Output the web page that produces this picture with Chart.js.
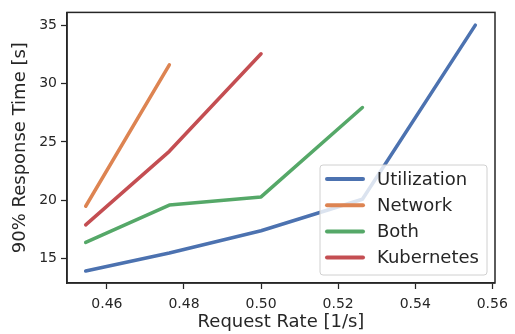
<!DOCTYPE html>
<html>
<head>
<meta charset="utf-8">
<script src="https://cdn.jsdelivr.net/npm/chart.js@4"></script>
<style>
  html, body { margin: 0; padding: 0; background: #fff; }
  #wrap { width: 515px; height: 334px; }
</style>
</head>
<body>
<div id="wrap"><canvas id="chart"></canvas></div>
<script>
const seriesNames = ['Utilization', 'Network', 'Both', 'Kubernetes'];
const seriesColors = ['#4c72b0', '#dd8452', '#55a868', '#c44e52'];

const utilRate = [0.4545, 0.4762, 0.5, 0.5263, 0.5556];
const utilTime = [13.95, 15.5, 17.4, 20.1, 35.0];
const netRate = [0.4545, 0.4762];
const netTime = [19.5, 31.6];
const bothRate = [0.4545, 0.4762, 0.5, 0.5263];
const bothTime = [16.4, 19.6, 20.3, 27.95];
const kubeRate = [0.4545, 0.4762, 0.5];
const kubeTime = [17.9, 24.2, 32.55];

const xTicks = [0.46, 0.48, 0.50, 0.52, 0.54, 0.56];
const yTicks = [15, 20, 25, 30, 35];

const rates = [utilRate, netRate, bothRate, kubeRate];
const times = [utilTime, netTime, bothTime, kubeTime];

const ink = '#262626';
const font = 'DejaVu Sans';

const plotBox = {
    id: 'plotBox',
    afterDatasetsDraw(chart) {
        const { ctx, chartArea } = chart;
        ctx.save();
        ctx.strokeStyle = ink;
        ctx.lineWidth = 1.5;
        ctx.strokeRect(chartArea.left, chartArea.top,
            chartArea.right - chartArea.left, chartArea.bottom - chartArea.top);
        ctx.restore();
    }
};

const insideLegend = {
    id: 'insideLegend',
    afterDraw(chart) {
        const { ctx } = chart;
        const x = 320, y = 165, w = 167, h = 110;
        ctx.save();
        ctx.beginPath();
        ctx.roundRect(x, y, w, h, 3);
        ctx.fillStyle = 'rgba(255,255,255,0.8)';
        ctx.fill();
        ctx.strokeStyle = '#d0d0d0';
        ctx.lineWidth = 1;
        ctx.stroke();
        ctx.font = '18px "' + font + '"';
        ctx.textBaseline = 'middle';
        seriesNames.forEach((name, i) => {
            const ry = 179 + i * 26.2;
            ctx.strokeStyle = seriesColors[i];
            ctx.lineWidth = 4;
            ctx.lineCap = 'round';
            ctx.beginPath();
            ctx.moveTo(327, ry);
            ctx.lineTo(363, ry);
            ctx.stroke();
            ctx.fillStyle = ink;
            ctx.fillText(name, 377, ry + 1);
        });
        ctx.restore();
    }
};

new Chart(document.getElementById('chart'), {
    type: 'line',
    data: {
        datasets: seriesNames.map((name, i) => ({
            label: name,
            data: rates[i].map((r, j) => ({ x: r, y: times[i][j] })),
            borderColor: seriesColors[i],
            backgroundColor: seriesColors[i],
            borderWidth: 3.5,
            borderCapStyle: 'round',
            borderJoinStyle: 'round',
            pointRadius: 0,
            tension: 0
        }))
    },
    options: {
        responsive: true,
        maintainAspectRatio: false,
        animation: false,
        layout: { padding: { left: 0, right: 18, top: 6, bottom: 0 } },
        plugins: {
            legend: { display: false },
            tooltip: { enabled: false }
        },
        scales: {
            x: {
                type: 'linear',
                min: 0.44965,
                max: 0.5607,
                afterBuildTicks: s => { s.ticks = xTicks.map(v => ({ value: v })); },
                afterFit: s => { s.height = 51; },
                grid: { drawOnChartArea: false, tickLength: 6, tickWidth: 1.25, color: ink },
                border: { display: true, color: ink, width: 1.5 },
                ticks: {
                    color: ink, padding: 7,
                    font: { family: font, size: 14 },
                    callback: v => v.toFixed(2)
                },
                title: {
                    display: true, text: 'Request Rate [1/s]', color: ink,
                    font: { family: font, size: 18 }, padding: { top: 0, bottom: 1 }
                }
            },
            y: {
                type: 'linear',
                min: 12.93,
                max: 36.09,
                afterBuildTicks: s => { s.ticks = yTicks.map(v => ({ value: v })); },
                afterFit: s => { s.width = 67; },
                grid: { drawOnChartArea: false, tickLength: 6, tickWidth: 1.25, color: ink },
                border: { display: true, color: ink, width: 1.5 },
                ticks: {
                    color: ink, padding: 4,
                    font: { family: font, size: 14 }
                },
                title: {
                    display: true, text: '90% Response Time [s]', color: ink,
                    font: { family: font, size: 18 }, padding: { top: 10, bottom: 0 }
                }
            }
        }
    },
    plugins: [plotBox, insideLegend]
});
</script>
</body>
</html>
